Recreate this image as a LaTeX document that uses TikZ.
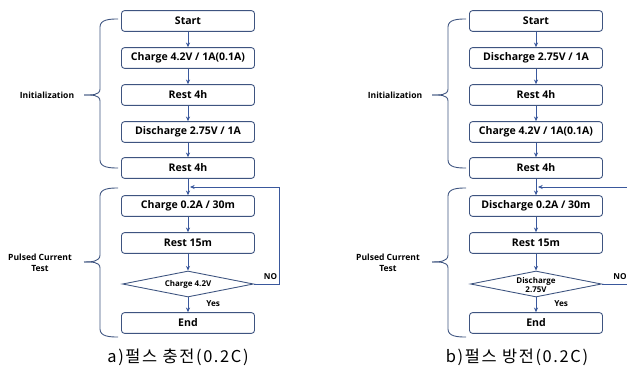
\documentclass[tikz,border=0pt]{standalone}
\usepackage{fontspec}
\setmainfont{Open Sans}
\newfontfamily\krfont[LetterSpace=10]{Noto Sans CJK KR}
\usetikzlibrary{arrows.meta,shapes.geometric}

\definecolor{boxline}{RGB}{62,84,128}
\definecolor{flowline}{RGB}{58,88,156}

\begin{document}
\begin{tikzpicture}[
  x=0.03cm,y=-0.03cm,
  >={Stealth[length=4pt,width=3.5pt]},
  every node/.style={font=\bfseries\fontsize{9}{10.5}\selectfont},
  box node/.style={rectangle,rounded corners=2.5pt,draw=boxline,line width=0.75pt,
    minimum width=3.99cm,minimum height=0.62cm,inner sep=1pt,fill=white},
  test node/.style={diamond,draw=boxline,line width=0.75pt,inner sep=0pt,
    minimum width=3.93cm,minimum height=0.78cm},
  test text/.style={font=\bfseries\fontsize{6.8}{7.6}\selectfont,align=center},
  flow/.style={->,draw=flowline,line width=0.75pt},
  brace line/.style={draw=boxline,line width=0.75pt},
  side label/.style={font=\bfseries\fontsize{7.3}{9}\selectfont,align=center},
  small label/.style={font=\bfseries\fontsize{7}{8}\selectfont},
  cap label/.style={font=\krfont\fontsize{14}{16}\selectfont},
]
\useasboundingbox (0,0) rectangle (627,374);

% a) charge
\begin{scope}
\node[box node] (a-start) at (188,21) {Start};
\node[box node] (a-chg) at (188,58) {Charge 4.2V / 1A(0.1A)};
\node[box node] (a-rest1) at (188,95) {Rest 4h};
\node[box node] (a-dis) at (188,132) {Discharge 2.75V / 1A};
\node[box node] (a-rest2) at (188,168) {Rest 4h};
\node[box node] (a-pulse) at (188,206) {Charge 0.2A / 30m};
\node[box node] (a-rest3) at (188,243) {Rest 15m};
\node[test node,label={[test text]center:Charge 4.2V}] (a-dec) at (188,284) {};
\node[box node] (a-end) at (188,323) {End};
\coordinate (a-ret) at (279,187);
\coordinate (a-join) at (190,187);
\draw[flow] (a-start) -- (a-chg);
\draw[flow] (a-chg) -- (a-rest1);
\draw[flow] (a-rest1) -- (a-dis);
\draw[flow] (a-dis) -- (a-rest2);
\draw[flow] (a-rest2) -- (a-pulse);
\draw[flow] (a-pulse) -- (a-rest3);
\draw[flow] (a-rest3) -- (a-dec);
\draw[flow] (a-dec) -- node[small label,right=12pt,pos=0.4] {Yes} (a-end);
\draw[flow] (a-dec.east) -| node[small label,above,pos=0.33] {NO} (a-ret) -- (a-join);
% braces
\draw[brace line] (118,19) to[out=180,in=90] (100,27) -- (100,89) to[out=-90,in=0] (84,95);
\draw[brace line] (118,168) to[out=180,in=-90] (100,160) -- (100,101) to[out=90,in=0] (84,95);
\draw[brace line] (118,188) to[out=180,in=90] (100,196) -- (100,255) to[out=-90,in=0] (84,262);
\draw[brace line] (118,337) to[out=180,in=-90] (100,329) -- (100,268) to[out=90,in=0] (84,262);
\node[side label] (a-init) at (47,95) {Initialization};
\node[side label] (a-test) at (40,263) {Pulsed Current\\Test};
\end{scope}

% b) discharge
\begin{scope}[shift={(348,0)}]
\node[box node] (b-start) at (188,21) {Start};
\node[box node] (b-dis) at (188,58) {Discharge 2.75V / 1A};
\node[box node] (b-rest1) at (188,95) {Rest 4h};
\node[box node] (b-chg) at (188,132) {Charge 4.2V / 1A(0.1A)};
\node[box node] (b-rest2) at (188,168) {Rest 4h};
\node[box node] (b-pulse) at (188,206) {Discharge 0.2A / 30m};
\node[box node] (b-rest3) at (188,243) {Rest 15m};
\node[test node,label={[test text,yshift=-1pt]center:Discharge\\2.75V}] (b-dec) at (188,284) {};
\node[box node] (b-end) at (188,323) {End};
\coordinate (b-ret) at (284,187);
\coordinate (b-join) at (190,187);
\draw[flow] (b-start) -- (b-dis);
\draw[flow] (b-dis) -- (b-rest1);
\draw[flow] (b-rest1) -- (b-chg);
\draw[flow] (b-chg) -- (b-rest2);
\draw[flow] (b-rest2) -- (b-pulse);
\draw[flow] (b-pulse) -- (b-rest3);
\draw[flow] (b-rest3) -- (b-dec);
\draw[flow] (b-dec) -- node[small label,right=12pt,pos=0.4] {Yes} (b-end);
\draw[flow] (b-dec.east) -| node[small label,above,pos=0.3] {NO} (b-ret) -- (b-join);
% braces
\draw[brace line] (118,19) to[out=180,in=90] (100,27) -- (100,89) to[out=-90,in=0] (84,95);
\draw[brace line] (118,168) to[out=180,in=-90] (100,160) -- (100,101) to[out=90,in=0] (84,95);
\draw[brace line] (118,188) to[out=180,in=90] (100,196) -- (100,255) to[out=-90,in=0] (84,262);
\draw[brace line] (118,337) to[out=180,in=-90] (100,329) -- (100,268) to[out=90,in=0] (84,262);
\node[side label] (b-init) at (47,95) {Initialization};
\node[side label] (b-test) at (40,263) {Pulsed Current\\Test};
\end{scope}

\node[cap label] (a-cap) at (178,357) {a)펄스 충전(0.2C)};
\node[cap label] (b-cap) at (517,357) {b)펄스 방전(0.2C)};
\end{tikzpicture}
\end{document}
